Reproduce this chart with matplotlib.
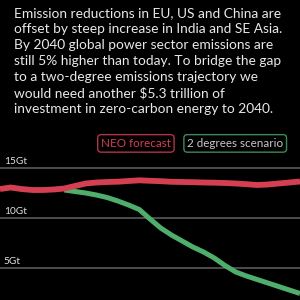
import matplotlib.pyplot as plt

plt.rcParams['font.family'] = ['Lato', 'DejaVu Sans']

# Datos
anios_neo = list(range(2012, 2041))
neo = [12.9, 13.05, 12.9, 12.8, 12.8, 12.85, 12.95, 13.2, 13.45, 13.55,
       13.6, 13.63, 13.7, 13.77, 13.72, 13.68, 13.62, 13.6, 13.58, 13.55,
       13.53, 13.5, 13.45, 13.38, 13.3, 13.35, 13.45, 13.55, 13.65]

anios_2c = list(range(2018, 2041))
dos_grados = [12.8, 12.65, 12.5, 12.3, 12.05, 11.7, 11.3, 10.85, 9.9, 9.0,
              8.3, 7.7, 7.1, 6.6, 6.0, 5.25, 4.6, 4.2, 3.85, 3.5, 3.15, 2.8, 2.45]

ticks = [5, 10, 15]
tick_labels = ['5Gt', '10Gt', '15Gt']

texto = ("Emission reductions in EU, US and China are\n"
         "offset by steep increase in India and SE Asia.\n"
         "By 2040 global power sector emissions are\n"
         "still 5% higher than today. To bridge the gap\n"
         "to a two-degree emissions trajectory we\n"
         "would need another $5.3 trillion of\n"
         "investment in zero-carbon energy to 2040.")

rojo = '#d43f52'
verde = '#4fae6c'

fig = plt.figure(figsize=(3, 3), dpi=100, facecolor='black')
ax = fig.add_axes([0, 0, 1, 0.5])
ax.set_facecolor('black')

for t, lab in zip(ticks, tick_labels):
    ax.axhline(t, color='#5a5a5a', lw=1.2, zorder=1)
    ax.text(2012.35, t + 0.25, lab, color='#e0e0e0', fontsize=7.3,
            va='bottom', ha='left')

ax.plot(anios_2c, dos_grados, color=verde, lw=3.6, zorder=2,
        solid_capstyle='butt')
ax.plot(anios_neo, neo, color=rojo, lw=4.2, zorder=3,
        solid_capstyle='butt')

ax.set_xlim(2012, 2040)
ax.set_ylim(1.8, 16.8)
ax.axis('off')

fig.text(0.047, 0.975, texto, color='#e8e8e8', fontsize=9.9,
         va='top', ha='left', linespacing=1.38)

fig.text(0.453, 0.522, 'NEO forecast', color=rojo, fontsize=8.4,
         ha='center', va='center',
         bbox=dict(boxstyle='round,pad=0.28,rounding_size=0.3',
                   fc='black', ec='#b03546', lw=1))
fig.text(0.784, 0.522, '2 degrees scenario', color='#c8c8c8', fontsize=8.4,
         ha='center', va='center',
         bbox=dict(boxstyle='round,pad=0.28,rounding_size=0.3',
                   fc='black', ec='#3d8a58', lw=1))

plt.savefig('out.png', dpi=100, facecolor='black')
